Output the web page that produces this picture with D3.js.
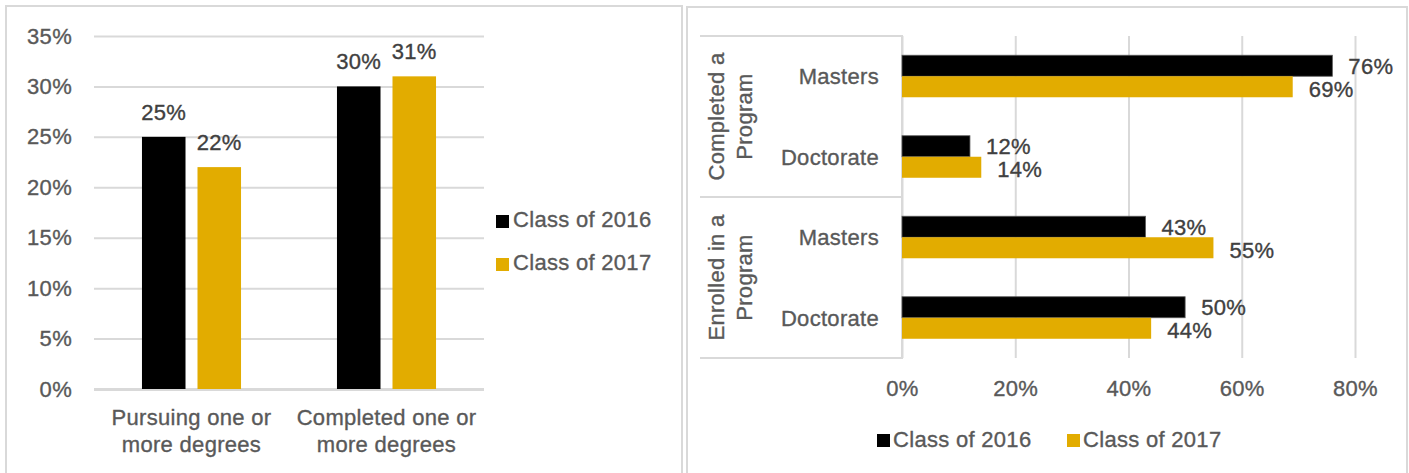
<!DOCTYPE html>
<html>
<head>
<meta charset="utf-8">
<script src="https://cdn.jsdelivr.net/npm/d3@7"></script>
<style>
  body { margin: 0; background: #fff; }
  svg { display: block; font-family: "Liberation Sans", Arial, sans-serif; }
  .grid line { stroke: #d9d9d9; stroke-width: 2; }
  .axis-label { fill: #595959; stroke: #595959; stroke-width: 0.35px; font-size: 22px; letter-spacing: 0.3px; }
  .value-label { fill: #404040; stroke: #404040; stroke-width: 0.35px; font-size: 22px; letter-spacing: 0.3px; }
</style>
</head>
<body>
<svg id="chart" width="1409" height="473"></svg>
<script>
// Left chart data
const series = ["Class of 2016", "Class of 2017"];
const colors = ["#000000", "#e2ac00"];
const leftCategories = [["Pursuing one or", "more degrees"], ["Completed one or", "more degrees"]];
const leftValues2016 = [0.25, 0.30];
const leftValues2017 = [0.22, 0.31];
const leftTicks = [0, 0.05, 0.10, 0.15, 0.20, 0.25, 0.30, 0.35];

// Right chart data (top to bottom)
const rightGroups = [["Completed a", "Program"], ["Enrolled in a", "Program"]];
const rightRows = ["Masters", "Doctorate", "Masters", "Doctorate"];
const rightValues2016 = [0.76, 0.12, 0.43, 0.50];
const rightValues2017 = [0.69, 0.14, 0.55, 0.44];
const rightTicks = [0, 0.2, 0.4, 0.6, 0.8];

const svg = d3.select("#chart");
const pct = d3.format(".0%");

// panel borders
svg.append("rect").attr("x", 6).attr("y", 6).attr("width", 676).attr("height", 474)
    .attr("fill", "none").attr("stroke", "#d9d9d9").attr("stroke-width", 2);
svg.append("rect").attr("x", 687).attr("y", 7).attr("width", 720).attr("height", 474)
    .attr("fill", "none").attr("stroke", "#d9d9d9").attr("stroke-width", 2);

// ---------- Left: grouped column chart ----------
const left = svg.append("g");
const ly = d3.scaleLinear().domain([0, 0.35]).range([389, 36]);
const lx0 = d3.scaleBand().domain(d3.range(leftCategories.length)).range([94, 484])
    .paddingInner(0.492).paddingOuter(0.246);
const lx1 = d3.scaleBand().domain(series).range([0, lx0.bandwidth()]).paddingInner(0.216);

const lAxis = left.append("g").attr("class", "grid")
    .attr("transform", "translate(94,0)")
    .call(d3.axisLeft(ly).tickValues(leftTicks).tickFormat(pct).tickSize(-390).tickPadding(22));
lAxis.select(".domain").remove();
lAxis.selectAll("text").attr("class", "axis-label").attr("fill", null).attr("font-family", null).attr("font-size", null);
lAxis.selectAll(".tick line").filter(d => d === 0).style("stroke-width", 3);

const leftData = leftCategories.map((c, i) => ({i, vals: [leftValues2016[i], leftValues2017[i]]}));
const lGroups = left.selectAll(".lgroup").data(leftData).join("g")
    .attr("transform", d => `translate(${lx0(d.i)},0)`);
lGroups.selectAll("rect").data(d => d.vals.map((v, k) => ({v, k}))).join("rect")
    .attr("x", d => lx1(series[d.k]))
    .attr("width", lx1.bandwidth())
    .attr("y", d => ly(d.v))
    .attr("height", d => ly(0) - ly(d.v))
    .attr("fill", d => colors[d.k]);
lGroups.selectAll(".value-label").data(d => d.vals.map((v, k) => ({v, k}))).join("text")
    .attr("class", "value-label")
    .attr("x", d => lx1(series[d.k]) + lx1.bandwidth() / 2)
    .attr("y", d => ly(d.v) - 17)
    .attr("text-anchor", "middle")
    .text(d => pct(d.v));

left.selectAll(".lcat").data(leftCategories).join("text")
    .attr("class", "axis-label")
    .attr("text-anchor", "middle")
    .attr("x", (d, i) => lx0(i) + lx0.bandwidth() / 2)
    .attr("y", 425)
    .selectAll("tspan").data(d => d).join("tspan")
    .attr("x", function() { return this.parentNode.getAttribute("x"); })
    .attr("dy", (d, i) => i === 0 ? 0 : 27)
    .text(d => d);

const lLegend = left.selectAll(".lleg").data(series).join("g")
    .attr("transform", (d, i) => `translate(496,${227 + i * 43})`);
lLegend.append("rect").attr("x", 0).attr("y", -12).attr("width", 13).attr("height", 13)
    .attr("fill", (d, i) => colors[i]);
lLegend.append("text").attr("class", "axis-label").attr("x", 17).attr("y", 0).text(d => d);

// ---------- Right: grouped bar chart ----------
const right = svg.append("g");
const rx = d3.scaleLinear().domain([0, 0.8]).range([902, 1355]);
const ry0 = d3.scaleBand().domain(d3.range(rightRows.length)).range([36, 358])
    .paddingInner(0.478).paddingOuter(0.239);
const ry1 = d3.scaleBand().domain(series).range([0, ry0.bandwidth()]);

const rAxis = right.append("g").attr("class", "grid")
    .attr("transform", "translate(0,358)")
    .call(d3.axisBottom(rx).tickValues(rightTicks).tickFormat(pct).tickSize(-322).tickPadding(22));
rAxis.select(".domain").remove();
rAxis.selectAll("text").attr("class", "axis-label").attr("fill", null).attr("font-family", null).attr("font-size", null)
    .attr("dy", null).attr("y", 38);

// category table lines
const stepY = ry0.step();
const groupEdges = [36, 36 + stepY * 2, 358];
right.selectAll(".hline").data(groupEdges).join("line")
    .attr("x1", 700).attr("x2", 902)
    .attr("y1", d => d).attr("y2", d => d)
    .attr("stroke", "#d9d9d9").attr("stroke-width", 2);
right.append("line").attr("x1", 902).attr("x2", 902).attr("y1", 35).attr("y2", 359)
    .attr("stroke", "#d9d9d9").attr("stroke-width", 2);

const rightData = rightRows.map((r, i) => ({i, vals: [rightValues2016[i], rightValues2017[i]]}));
const rGroups = right.selectAll(".rgroup").data(rightData).join("g")
    .attr("transform", d => `translate(0,${ry0(d.i)})`);
rGroups.selectAll("rect").data(d => d.vals.map((v, k) => ({v, k}))).join("rect")
    .attr("x", rx(0))
    .attr("y", d => ry1(series[d.k]))
    .attr("width", d => rx(d.v) - rx(0))
    .attr("height", ry1.bandwidth())
    .attr("fill", d => colors[d.k])
    .attr("stroke", d => d.k === 0 ? "#595959" : "none")
    .attr("stroke-width", 0.8);
rGroups.selectAll(".value-label").data(d => d.vals.map((v, k) => ({v, k}))).join("text")
    .attr("class", "value-label")
    .attr("x", d => rx(d.v) + 16)
    .attr("y", d => ry1(series[d.k]) + ry1.bandwidth() / 2 + 8 + d.k * 2)
    .text(d => pct(d.v));

right.selectAll(".rcat").data(rightRows).join("text")
    .attr("class", "axis-label")
    .attr("text-anchor", "end")
    .attr("x", 879)
    .attr("y", (d, i) => ry0(i) + ry0.bandwidth() / 2 + 8)
    .text(d => d);

right.selectAll(".rgrp").data(rightGroups).join("text")
    .attr("class", "axis-label")
    .attr("text-anchor", "middle")
    .attr("transform", (d, i) => `translate(724,${(groupEdges[i] + groupEdges[i + 1]) / 2}) rotate(-90)`)
    .selectAll("tspan").data(d => d).join("tspan")
    .attr("x", 0)
    .attr("dy", (d, i) => i === 0 ? 0 : 28)
    .text(d => d);

const rLegend = right.selectAll(".rleg").data(series).join("g")
    .attr("transform", (d, i) => `translate(${877 + i * 190},447)`);
rLegend.append("rect").attr("x", 0).attr("y", -13).attr("width", 13).attr("height", 13)
    .attr("fill", (d, i) => colors[i]);
rLegend.append("text").attr("class", "axis-label").attr("x", 16).attr("y", 0).text(d => d);
</script>
</body>
</html>
